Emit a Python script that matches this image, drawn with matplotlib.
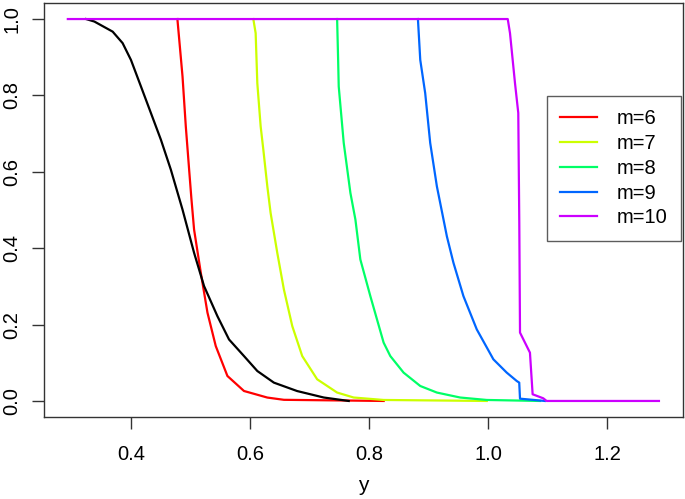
import matplotlib
matplotlib.use("Agg")
import matplotlib.pyplot as plt

plt.rcParams['font.family'] = ['Liberation Sans', 'DejaVu Sans']

# Black reference curve
black_x = [0.3246, 0.3385, 0.3693, 0.386, 0.400, 0.4168, 0.4335, 0.4503, 0.467, 0.4866,
           0.506, 0.5228, 0.5452, 0.5647, 0.5898, 0.6122, 0.640, 0.679, 0.7238, 0.7657]
black_y = [1.0, 0.9935, 0.967, 0.937, 0.893, 0.8235, 0.754, 0.684, 0.6056, 0.501,
           0.388, 0.3006, 0.222, 0.161, 0.1176, 0.0784, 0.048, 0.026, 0.009, 0.0]

# m=6
m6_x = [0.478, 0.4866, 0.4921, 0.4977, 0.5015, 0.506, 0.5173, 0.5285, 0.5424, 0.562,
        0.5898, 0.629, 0.6568, 0.8244]
m6_y = [1.0, 0.8497, 0.719, 0.6058, 0.53, 0.4489, 0.3357, 0.2311, 0.1438, 0.0654,
        0.0261, 0.0089, 0.003, 0.0]

# m=7
m7_x = [0.6055, 0.6094, 0.6122, 0.6178, 0.6223, 0.629, 0.6345, 0.6457, 0.6568, 0.6709,
        0.6876, 0.7127, 0.7462, 0.774, 0.8243, 0.9975]
m7_y = [1.0, 0.963, 0.832, 0.719, 0.658, 0.562, 0.4925, 0.388, 0.292, 0.196,
        0.1176, 0.0567, 0.022, 0.009, 0.0026, 0.0]

# m=8
m8_x = [0.7462, 0.7479, 0.7489, 0.7573, 0.7685, 0.7769, 0.7852, 0.802, 0.8243, 0.8355,
        0.8578, 0.8858, 0.9137, 0.9528, 0.9975, 1.087]
m8_y = [1.0, 0.893, 0.8235, 0.6756, 0.5448, 0.475, 0.3705, 0.2745, 0.1527, 0.1176,
        0.0742, 0.0392, 0.022, 0.009, 0.0026, 0.0]

# m=9
m9_x = [0.8819, 0.8858, 0.8941, 0.9025, 0.9137, 0.9305, 0.9415, 0.9583, 0.9807, 1.0086,
        1.031, 1.0478, 1.052, 1.0533, 1.095]
m9_y = [1.0, 0.893, 0.806, 0.6756, 0.562, 0.431, 0.362, 0.2745, 0.1874, 0.109,
        0.0742, 0.0523, 0.048, 0.006, 0.0]

# m=10
m10_x = [0.294, 1.0327, 1.0365, 1.0449, 1.0504, 1.0521, 1.0533, 1.070, 1.0745, 1.0923,
         1.098, 1.2866]
m10_y = [1.0, 1.0, 0.963, 0.832, 0.754, 0.466, 0.179, 0.1265, 0.0175, 0.007,
         0.0, 0.0]

series_labels = ['m=6', 'm=7', 'm=8', 'm=9', 'm=10']
series_colors = ['#FF0000', '#CCFF00', '#00FF66', '#0066FF', '#CC00FF']

x_ticks = [0.4, 0.6, 0.8, 1.0, 1.2]
y_ticks = [0.0, 0.2, 0.4, 0.6, 0.8, 1.0]

fig = plt.figure(figsize=(6.85, 4.99), dpi=100)
ax = fig.add_axes([44/685, 1-417/499, (683-44)/685, (417-3)/499])

lw = 1.6
lines = []
for xs, ys, c, lab in zip([m6_x, m7_x, m8_x, m9_x], [m6_y, m7_y, m8_y, m9_y],
                          series_colors[:4], series_labels[:4]):
    l, = ax.plot(xs, ys, color=c, lw=lw, label=lab, zorder=2)
    lines.append(l)
ax.plot(black_x, black_y, color='black', lw=lw, zorder=3)
l, = ax.plot(m10_x, m10_y, color=series_colors[4], lw=lw, label=series_labels[4], zorder=4)
lines.append(l)

ax.set_xlim(0.254, 1.327)
ax.set_ylim(-0.042, 1.042)
ax.set_xticks(x_ticks)
ax.set_xticklabels([f"{v:.1f}" for v in x_ticks])
ax.set_yticks(y_ticks)
ax.set_yticklabels([f"{v:.1f}" for v in y_ticks])

fs = 14.5
ax.tick_params(axis='both', direction='out', length=8.3, width=1.0, color='#333333',
               labelsize=fs, labelcolor='black')
ax.tick_params(axis='x', pad=12)
ax.tick_params(axis='y', pad=8, labelrotation=90)
for t in ax.get_yticklabels():
    t.set_va('center')
for s in ax.spines.values():
    s.set_color('#333333')
    s.set_linewidth(1.0)

fig.text(363.5/685, 1-491/499, 'y', ha='center', va='baseline', fontsize=fs + 0.5)

leg = ax.legend(handles=lines, loc='upper left',
                bbox_to_anchor=(546.7/685, 1-96/499), bbox_transform=fig.transFigure,
                borderaxespad=0, fontsize=fs, frameon=True, fancybox=False,
                edgecolor='black', handlelength=1.85, handletextpad=1.0,
                labelspacing=0.29, borderpad=0.65)
leg.get_frame().set_linewidth(1.0)
leg.get_frame().set_edgecolor('#333333')

fig.savefig('out.png', dpi=100)
